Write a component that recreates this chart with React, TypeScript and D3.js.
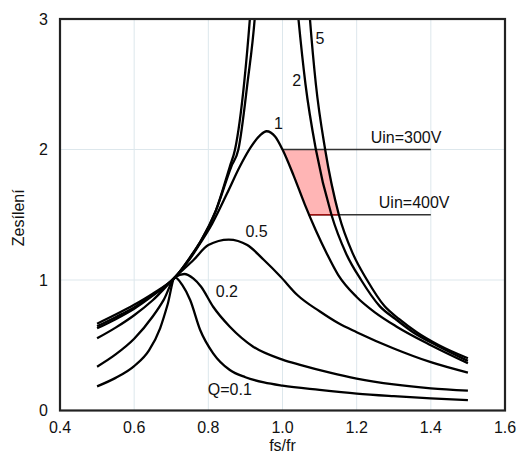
import React, { useRef, useEffect } from "react";
import * as d3 from "d3";

// gain curves: [fs/fr, gain]
const q01: [number, number][] = [
  [0.5, 0.185], [0.55, 0.25], [0.6, 0.34], [0.64, 0.46], [0.67, 0.63], [0.69, 0.81], [0.71, 1.02],
  [0.73, 0.96], [0.751, 0.847], [0.778, 0.617], [0.813, 0.438], [0.858, 0.31],
  [0.9, 0.255], [0.95, 0.215], [1.0, 0.19], [1.1, 0.158], [1.2, 0.13], [1.3, 0.11], [1.4, 0.093], [1.5, 0.08],
];
const q02: [number, number][] = [
  [0.5, 0.336], [0.55, 0.43], [0.6, 0.55], [0.65, 0.72], [0.68, 0.85], [0.71, 1.02], [0.735, 1.046],
  [0.76, 1.01], [0.78, 0.95], [0.813, 0.795], [0.858, 0.642], [0.921, 0.489],
  [1.0, 0.39], [1.05, 0.348], [1.128, 0.29], [1.2, 0.245], [1.3, 0.2], [1.4, 0.17], [1.5, 0.152],
];
const q05: [number, number][] = [
  [0.5, 0.553], [0.55, 0.635], [0.6, 0.73], [0.65, 0.845], [0.71, 1.02], [0.76, 1.153],
  [0.8, 1.268], [0.855, 1.31], [0.905, 1.268], [0.95, 1.153], [0.995, 1.025],
  [1.04, 0.885], [1.1, 0.76], [1.15, 0.67], [1.2, 0.6], [1.3, 0.475], [1.4, 0.37], [1.5, 0.29],
];
const q1: [number, number][] = [
  [0.5, 0.63], [0.55, 0.7], [0.6, 0.78], [0.65, 0.88], [0.71, 1.02], [0.75, 1.16],
  [0.78, 1.29], [0.81, 1.43], [0.85, 1.66], [0.885, 1.87], [0.915, 2.02], [0.94, 2.11],
  [0.957, 2.14], [0.98, 2.1], [1.0, 2.0], [1.03, 1.8], [1.06, 1.58], [1.09, 1.38],
  [1.12, 1.2], [1.15, 1.04], [1.2, 0.87], [1.25, 0.75], [1.308, 0.642], [1.4, 0.5], [1.5, 0.362],
];
// Q=2 and Q=5 leave the top of the plot, so each has a rising and a falling branch
const q2Rise: [number, number][] = [
  [0.5, 0.645], [0.55, 0.715], [0.6, 0.79], [0.65, 0.885], [0.71, 1.02], [0.75, 1.17],
  [0.78, 1.3], [0.82, 1.53], [0.858, 1.87], [0.872, 2.0], [0.897, 2.52], [0.912, 3.0], [0.916, 3.15],
];
const q2Fall: [number, number][] = [
  [1.038, 3.15], [1.043, 3.0], [1.062, 2.5], [1.09, 2.0], [1.132, 1.5], [1.172, 1.2],
  [1.212, 1.0], [1.262, 0.8], [1.305, 0.7], [1.352, 0.6], [1.415, 0.5], [1.5, 0.38],
];
const q5Rise: [number, number][] = [
  [0.5, 0.665], [0.55, 0.735], [0.6, 0.81], [0.65, 0.895], [0.71, 1.02], [0.75, 1.17],
  [0.78, 1.3], [0.82, 1.53], [0.862, 1.87], [0.881, 2.0], [0.906, 2.52], [0.925, 3.0], [0.929, 3.15],
];
const q5Fall: [number, number][] = [
  [1.07, 3.15], [1.074, 3.0], [1.09, 2.5], [1.115, 2.0], [1.152, 1.5], [1.19, 1.2],
  [1.228, 1.0], [1.275, 0.8], [1.315, 0.7], [1.362, 0.6], [1.422, 0.5], [1.5, 0.4],
];

const curves = [q01, q02, q05, q1, q2Rise, q2Fall, q5Rise, q5Fall];

// curve labels [text, fs/fr, gain]
const curveLabels: [string, number, number][] = [
  ["5", 1.101, 2.85], ["2", 1.038, 2.53], ["1", 0.989, 2.2],
  ["0.5", 0.93, 1.37], ["0.2", 0.85, 0.91], ["Q=0.1", 0.858, 0.165],
];

// input voltage limits: label, gain, line from, line to, label centre
const uinLevels: [string, number, number, number, number][] = [
  ["Uin=300V", 2.0, 1.0, 1.4, 1.333],
  ["Uin=400V", 1.5, 1.07, 1.4, 1.355],
];
// operating window between the limits
const shadeLeft: [number, number][] = [[1.0, 2.0], [1.03, 1.8], [1.06, 1.58], [1.07, 1.5]];
const shadeRight: [number, number][] = [[1.152, 1.5], [1.115, 2.0]];

const xTicks = [0.4, 0.6, 0.8, 1.0, 1.2, 1.4, 1.6];
const yTicks = [0, 1, 2, 3];

const W = 517;
const H = 461;
const FONT = "'Liberation Sans', Arial, sans-serif";

export default function App() {
  const svgRef = useRef<SVGSVGElement>(null);

  useEffect(() => {
    const svg = d3.select(svgRef.current);
    svg.selectAll("*").remove();

    const margin = { top: 19, right: 12, bottom: 50.5, left: 60 };
    const x = d3.scaleLinear().domain([0.4, 1.6]).range([margin.left, W - margin.right]);
    const y = d3.scaleLinear().domain([0, 3]).range([H - margin.bottom, margin.top]);

    svg.append("clipPath").attr("id", "plot-clip")
      .append("rect")
      .attr("x", x(0.4)).attr("y", y(3))
      .attr("width", x(1.6) - x(0.4)).attr("height", y(0) - y(3));

    // grid
    const grid = svg.append("g").attr("stroke", "#dde7ec").attr("stroke-width", 1);
    grid.selectAll("line.gx")
      .data(xTicks.slice(1, -1))
      .join("line")
      .attr("class", "gx")
      .attr("x1", d => x(d)).attr("x2", d => x(d))
      .attr("y1", y(0)).attr("y2", y(3));
    grid.selectAll("line.gy")
      .data(yTicks.slice(1, -1))
      .join("line")
      .attr("class", "gy")
      .attr("x1", x(0.4)).attr("x2", x(1.6))
      .attr("y1", d => y(d)).attr("y2", d => y(d));

    // shaded window
    const area = d3.line<[number, number]>().x(d => x(d[0])).y(d => y(d[1])).curve(d3.curveLinearClosed);
    svg.append("path")
      .attr("d", area(shadeLeft.concat(shadeRight)))
      .attr("fill", "#ffb5b5");

    // Uin lines
    uinLevels.forEach(([label, g, from, to, lx]) => {
      svg.append("line")
        .attr("x1", x(from)).attr("x2", x(to))
        .attr("y1", y(g)).attr("y2", y(g))
        .attr("stroke", "#333").attr("stroke-width", 1.5);
      svg.append("text")
        .attr("x", x(lx)).attr("y", y(g) - 7)
        .attr("text-anchor", "middle")
        .style("font-family", FONT).style("font-size", "16px").style("fill", "#111")
        .text(label);
    });
    svg.append("line")
      .attr("x1", x(shadeLeft[shadeLeft.length - 1][0])).attr("x2", x(shadeRight[0][0]))
      .attr("y1", y(1.5)).attr("y2", y(1.5))
      .attr("stroke", "#a01010").attr("stroke-width", 1.5);

    // curves
    const line = d3.line<[number, number]>()
      .x(d => x(d[0]))
      .y(d => y(d[1]))
      .curve(d3.curveMonotoneX);

    svg.append("g")
      .attr("clip-path", "url(#plot-clip)")
      .selectAll("path")
      .data(curves)
      .join("path")
      .attr("d", d => line(d))
      .attr("fill", "none")
      .attr("stroke", "#000")
      .attr("stroke-width", 2.3)
      .attr("stroke-linejoin", "round");

    // frame
    svg.append("rect")
      .attr("x", x(0.4)).attr("y", y(3))
      .attr("width", x(1.6) - x(0.4)).attr("height", y(0) - y(3))
      .attr("fill", "none").attr("stroke", "#222").attr("stroke-width", 2.2);

    // curve labels
    svg.append("g")
      .selectAll("text")
      .data(curveLabels)
      .join("text")
      .attr("x", d => x(d[1]))
      .attr("y", d => y(d[2]))
      .attr("dy", "0.35em")
      .attr("text-anchor", "middle")
      .style("font-family", FONT).style("font-size", "16px").style("fill", "#111")
      .text(d => d[0]);

    // tick labels
    svg.append("g")
      .selectAll("text")
      .data(xTicks)
      .join("text")
      .attr("x", d => x(d)).attr("y", y(0) + 22)
      .attr("text-anchor", "middle")
      .style("font-family", FONT).style("font-size", "16px").style("fill", "#111")
      .text(d => d3.format(".1f")(d));

    svg.append("g")
      .selectAll("text")
      .data(yTicks)
      .join("text")
      .attr("x", x(0.4) - 12).attr("y", d => y(d))
      .attr("dy", "0.35em")
      .attr("text-anchor", "end")
      .style("font-family", FONT).style("font-size", "16px").style("fill", "#111")
      .text(d => d);

    // axis titles
    svg.append("text")
      .attr("x", x(1.0)).attr("y", y(0) + 40)
      .attr("text-anchor", "middle")
      .style("font-family", FONT).style("font-size", "16px").style("fill", "#111")
      .text("fs/fr");

    svg.append("text")
      .attr("transform", `translate(18,${(y(0) + y(3)) / 2 + 3}) rotate(-90)`)
      .attr("dy", "0.35em")
      .attr("text-anchor", "middle")
      .style("font-family", FONT).style("font-size", "16px").style("fill", "#111")
      .text("Zesílení");
  }, []);

  return (
    <svg
      ref={svgRef}
      width={W}
      height={H}
      style={{ position: "absolute", left: 0, top: 0, background: "#fff" }}
    />
  );
}
